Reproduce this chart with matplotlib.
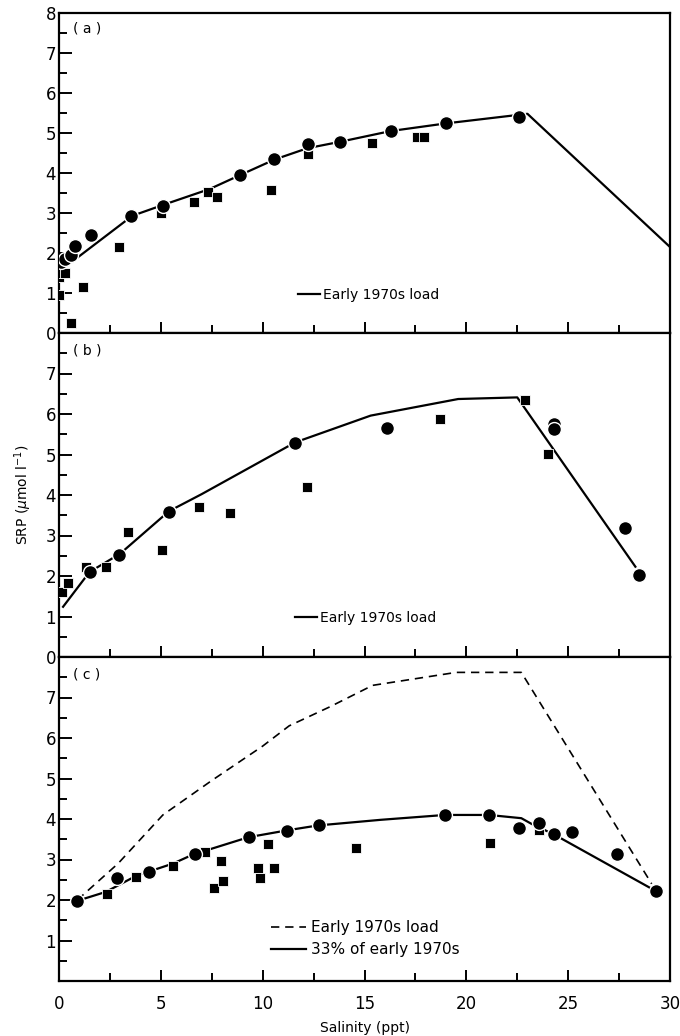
import matplotlib
matplotlib.use("Agg")
import matplotlib.pyplot as plt
from matplotlib.lines import Line2D
from matplotlib.ticker import MultipleLocator

# ---- panel (a) ----
a_circ_x = [0.1, 0.3, 0.6, 0.8, 1.55, 3.55, 5.1, 8.9, 10.55, 12.25, 13.8, 16.3, 19.0, 22.6]
a_circ_y = [1.78, 1.85, 1.95, 2.18, 2.44, 2.93, 3.18, 3.95, 4.34, 4.72, 4.78, 5.06, 5.24, 5.39]
a_sq_x = [0.0, 0.0, 0.15, 0.3, 0.6, 1.2, 2.95, 5.0, 6.65, 7.3, 7.75, 10.4, 12.25, 15.35, 17.6, 17.9]
a_sq_y = [0.95, 1.4, 1.5, 1.5, 0.24, 1.16, 2.16, 2.99, 3.28, 3.53, 3.41, 3.58, 4.48, 4.76, 4.9, 4.91]
a_line_x = [0.3, 3.6, 5.1, 7.4, 8.9, 10.6, 12.2, 13.8, 16.3, 19.0, 23.0, 30.0]
a_line_y = [1.65, 2.93, 3.2, 3.6, 3.95, 4.34, 4.62, 4.78, 5.05, 5.24, 5.48, 2.15]

# ---- panel (b) ----
b_circ_x = [1.5, 2.95, 5.4, 11.6, 16.1, 24.3, 24.3, 27.8, 28.5]
b_circ_y = [2.09, 2.52, 3.59, 5.29, 5.66, 5.75, 5.62, 3.18, 2.02]
b_sq_x = [0.15, 0.45, 1.35, 2.3, 3.4, 5.05, 6.85, 8.4, 12.2, 18.7, 22.9, 24.0]
b_sq_y = [1.61, 1.82, 2.21, 2.23, 3.08, 2.64, 3.71, 3.56, 4.19, 5.87, 6.35, 5.01]
b_line_x = [0.2, 1.5, 3.0, 5.4, 7.0, 11.6, 15.3, 19.6, 22.5, 28.3]
b_line_y = [1.24, 2.1, 2.55, 3.6, 4.02, 5.3, 5.96, 6.37, 6.41, 2.23]

# ---- panel (c) ----
c_circ_x = [0.9, 2.85, 4.4, 6.7, 9.35, 11.2, 12.75, 18.95, 21.1, 22.6, 23.55, 24.3, 25.2, 27.4, 29.3]
c_circ_y = [1.98, 2.54, 2.7, 3.14, 3.55, 3.7, 3.84, 4.1, 4.1, 3.79, 3.91, 3.62, 3.69, 3.13, 2.22]
c_sq_x = [2.35, 3.8, 5.6, 7.15, 7.95, 7.6, 8.05, 9.75, 9.85, 10.25, 10.55, 14.6, 21.15, 23.55]
c_sq_y = [2.16, 2.58, 2.85, 3.19, 2.96, 2.29, 2.47, 2.8, 2.55, 3.38, 2.8, 3.28, 3.4, 3.73]
c_early_x = [0.9, 2.9, 5.1, 7.5, 10.0, 11.3, 13.3, 15.4, 19.5, 22.7, 29.1]
c_early_y = [2.0, 2.9, 4.1, 4.95, 5.8, 6.3, 6.77, 7.3, 7.62, 7.62, 2.4]
c_33_x = [0.9, 2.3, 3.8, 4.4, 5.6, 6.7, 7.2, 9.3, 11.2, 12.7, 15.8, 18.95, 21.1, 22.7, 23.2, 24.3, 29.2]
c_33_y = [1.98, 2.2, 2.6, 2.7, 2.9, 3.15, 3.22, 3.55, 3.72, 3.84, 3.98, 4.1, 4.1, 4.02, 3.88, 3.62, 2.25]

FONT = 10
TICKFONT = 12

fig = plt.figure(figsize=(6.8, 10.36), dpi=100)
W, H = 680.0, 1036.0
left, right = 59 / W, 670 / W
tops = [13, 333, 657]
bots = [333, 657, 981]
axes = []
for t, b in zip(tops, bots):
    ax = fig.add_axes([left, 1 - b / H, right - left, (b - t) / H])
    axes.append(ax)


def style(ax, shown, show_x):
    ax.set_xlim(0, 30)
    ax.set_ylim(0, 8)
    for s in ax.spines.values():
        s.set_linewidth(1.6)
    ax.xaxis.set_major_locator(MultipleLocator(5))
    ax.xaxis.set_minor_locator(MultipleLocator(2.5))
    ax.yaxis.set_minor_locator(MultipleLocator(0.5))
    ax.set_yticks(range(0, 9))
    # labels only where the original shows them
    ax.set_yticklabels([str(v) if v in shown else '' for v in range(0, 9)],
                       fontsize=TICKFONT)
    ax.tick_params(which='both', direction='in', top=False, right=False, width=1.4)
    ax.tick_params(which='major', length=9)
    ax.tick_params(which='minor', length=6)
    ax.tick_params(axis='x', which='major', length=8)
    ax.tick_params(axis='y', pad=2)
    if show_x:
        ax.set_xticks([0, 5, 10, 15, 20, 25, 30])
        ax.set_xticklabels(['0', '5', '10', '15', '20', '25', '30'], fontsize=TICKFONT)
        ax.tick_params(axis='x', pad=10)
    else:
        ax.set_xticklabels([])


circ_kw = dict(linestyle='none', marker='o', markersize=10, color='black',
               markeredgecolor='white', markeredgewidth=1.0, zorder=4)
sq_kw = dict(linestyle='none', marker='s', markersize=7.5, color='black',
             markeredgecolor='white', markeredgewidth=0.6, zorder=3)

# (a)
ax = axes[0]
ax.plot(a_line_x, a_line_y, color='black', lw=1.6, zorder=2)
ax.plot(a_sq_x, a_sq_y, **sq_kw)
ax.plot(a_circ_x, a_circ_y, **circ_kw)
style(ax, range(0, 9), False)
ax.text(0.7, 7.62, '( a )', fontsize=FONT, va='center')
ax.legend([Line2D([], [], color='black', lw=1.6)], ['Early 1970s load'],
          loc='center left', bbox_to_anchor=(0.37, 0.12), frameon=False,
          handlelength=1.6, handletextpad=0.2, fontsize=FONT)

# (b)
ax = axes[1]
ax.plot(b_line_x, b_line_y, color='black', lw=1.6, zorder=2)
ax.plot(b_sq_x, b_sq_y, **sq_kw)
ax.plot(b_circ_x, b_circ_y, **circ_kw)
style(ax, range(0, 8), False)
ax.text(0.7, 7.56, '( b )', fontsize=FONT, va='center')
ax.set_ylabel(r'SRP ($\mu$mol l$^{-1}$)', fontsize=FONT, labelpad=8)
ax.legend([Line2D([], [], color='black', lw=1.6)], ['Early 1970s load'],
          loc='center left', bbox_to_anchor=(0.365, 0.12), frameon=False,
          handlelength=1.6, handletextpad=0.2, fontsize=FONT)

# (c)
ax = axes[2]
ax.plot(c_early_x, c_early_y, color='black', lw=1.2, ls=(0, (5, 3.5)), zorder=2)
ax.plot(c_33_x, c_33_y, color='black', lw=1.6, zorder=2)
ax.plot(c_sq_x, c_sq_y, **sq_kw)
ax.plot(c_circ_x, c_circ_y, **circ_kw)
style(ax, range(1, 8), True)
ax.text(0.7, 7.56, '( c )', fontsize=FONT, va='center')
ax.set_xlabel('Salinity (ppt)', fontsize=FONT, labelpad=6)
ax.legend([Line2D([], [], color='black', lw=1.2, ls=(0, (5, 3.5))),
           Line2D([], [], color='black', lw=1.6)],
          ['Early 1970s load', '33% of early 1970s'],
          loc='center left', bbox_to_anchor=(0.325, 0.13), frameon=False,
          handlelength=2.3, handletextpad=0.3, labelspacing=0.45, fontsize=FONT + 1)

fig.savefig('out.png', dpi=100)
